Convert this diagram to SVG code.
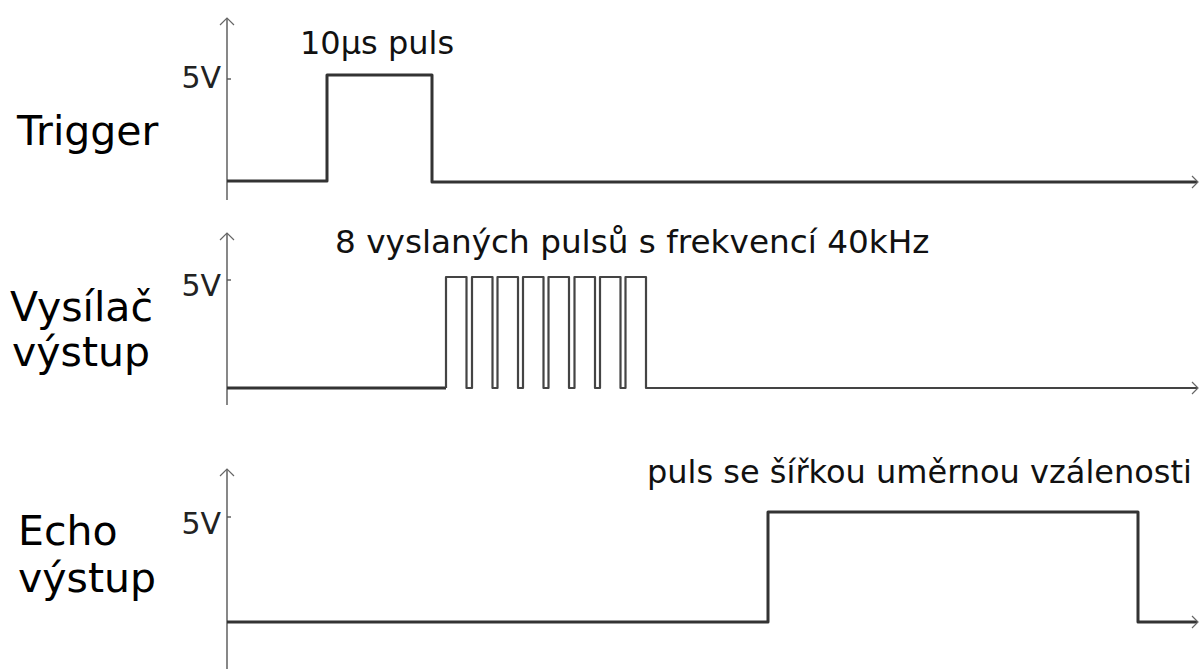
<svg xmlns="http://www.w3.org/2000/svg" width="1200" height="669" viewBox="0 0 1200 669">
<defs>
<style>
.lbl{font-family:"DejaVu Sans","Liberation Sans",sans-serif;fill:#000}
.big{font-size:41px}
.mid{font-size:32px;fill:#111}
.v5{font-size:30px;fill:#222;text-anchor:end}
.axis{stroke:#555;stroke-width:1.4;fill:none}
.arr{stroke:#666;stroke-width:1.2;fill:none}
.sig{stroke:#333;stroke-width:3;fill:none;stroke-linejoin:round}
.pul{stroke:#444;stroke-width:2.2;fill:none;stroke-linejoin:round}
</style>
</defs>
<rect width="1200" height="669" fill="#fff"/>

<g id="trigger">
<text class="lbl big" x="17" y="145">Trigger</text>
<text class="lbl v5" x="221" y="88">5V</text>
<text class="lbl mid" x="300" y="54">10µs puls</text>
<line class="axis" x1="227" y1="18" x2="227" y2="200"/>
<path class="arr" d="M220 25 L227 18 L234 25"/>
<line class="axis" x1="227" y1="79" x2="231" y2="79" stroke-width="2.5"/>
<path class="sig" d="M227 181 H327 V75 H432 V182 H1197"/>
<path class="arr" d="M1192 176 L1198 182 L1192 188"/>
</g>

<g id="vysilac">
<text class="lbl big" x="10" y="321">Vysílač</text>
<text class="lbl big" x="12" y="366">výstup</text>
<text class="lbl v5" x="221" y="296">5V</text>
<text class="lbl mid" x="335" y="253" style="font-size:32.7px">8 vyslaných pulsů s frekvencí 40kHz</text>
<line class="axis" x1="227" y1="233" x2="227" y2="405"/>
<path class="arr" d="M220 240 L227 233 L234 240"/>
<line class="axis" x1="227" y1="280" x2="231" y2="280" stroke-width="2.5"/>
<path class="sig" d="M227 388 H446"/>
<path class="pul" d="M446 388 V277 H466.5 V388 H472 V277 H492.5 V388 H497.5 V277 H518 V388 H523 V277 H543.5 V388 H548.5 V277 H569 V388 H574.5 V277 H595 V388 H600 V277 H620.5 V388 H625.5 V277 H646 V388 H1197"/>
<path class="arr" d="M1192 382 L1198 388 L1192 394"/>
</g>

<g id="echo">
<text class="lbl big" x="18" y="545">Echo</text>
<text class="lbl big" x="18" y="592">výstup</text>
<text class="lbl v5" x="221" y="534">5V</text>
<text class="lbl mid" x="647" y="483">puls se šířkou uměrnou vzálenosti</text>
<line class="axis" x1="227" y1="469" x2="227" y2="669"/>
<path class="arr" d="M220 476 L227 469 L234 476"/>
<line class="axis" x1="227" y1="517" x2="231" y2="517" stroke-width="2.5"/>
<path class="sig" d="M227 622 H768 V512 H1138 V622 H1197"/>
<path class="arr" d="M1192 616 L1198 622 L1192 628"/>
</g>
</svg>
